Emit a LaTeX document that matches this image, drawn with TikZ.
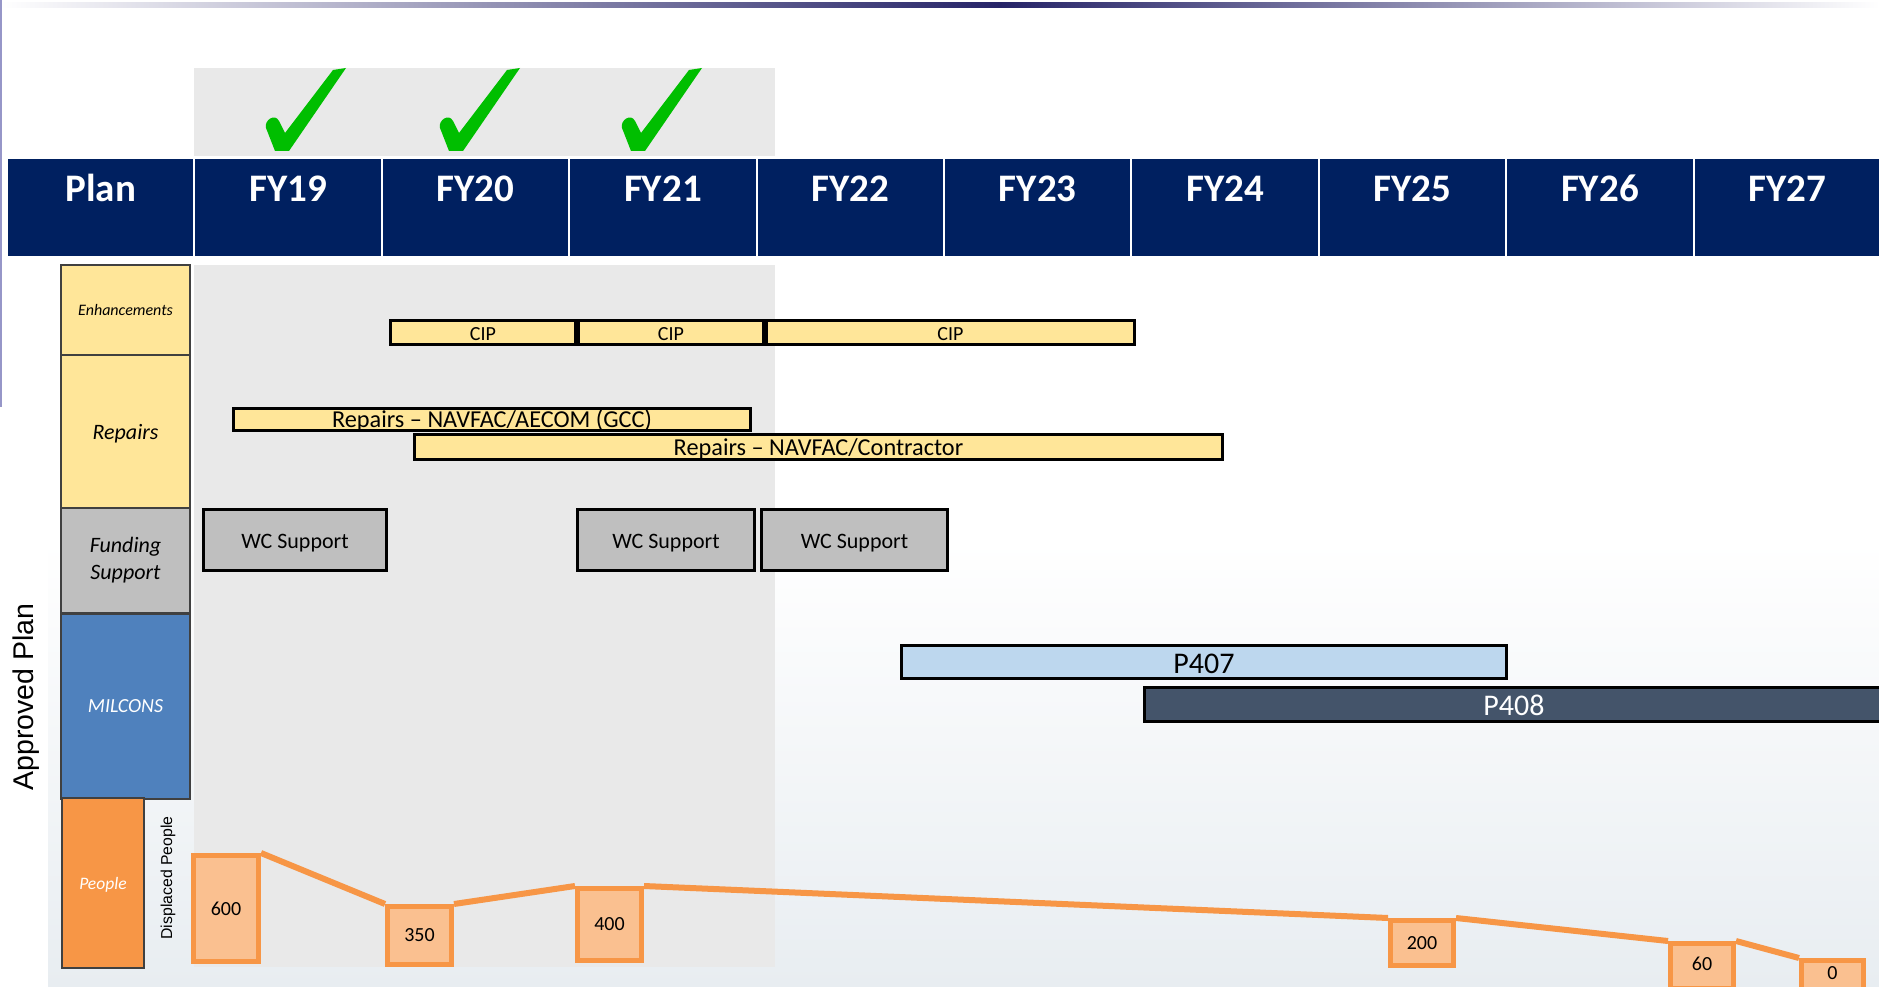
\documentclass[tikz,border=0pt]{standalone}
\usepackage{fontspec}
\setmainfont{Carlito}
\newfontfamily\arialfont{Liberation Sans}

\definecolor{navy}{RGB}{0,32,96}
\definecolor{topline}{RGB}{38,36,104}
\definecolor{pastgray}{RGB}{233,233,233}
\definecolor{enhyellow}{RGB}{255,230,153}
\definecolor{fundgray}{RGB}{191,191,191}
\definecolor{milblue}{RGB}{79,129,189}
\definecolor{pplorange}{RGB}{247,150,70}
\definecolor{ppllight}{RGB}{250,192,144}
\definecolor{pfirstblue}{RGB}{189,215,238}
\definecolor{pslate}{RGB}{68,84,106}
\definecolor{tickgreen}{RGB}{0,190,0}
\definecolor{sidepurple}{RGB}{150,150,200}
\definecolor{water}{RGB}{232,237,241}
\definecolor{rowedge}{RGB}{64,64,64}

\newcommand{\fsz}[1]{\fontsize{#1}{#1}\selectfont}

\begin{document}
\begin{tikzpicture}[x=1pt,y=-1pt,
    hdr/.style={fill=navy,text=white,inner sep=0pt,minimum width=185.4pt,minimum height=97pt,
                text height=25pt,text depth=36pt,font=\fsz{39}\bfseries},
    rowlab/.style={draw=rowedge,line width=1.2pt,inner sep=0pt,align=center,text depth=0pt},
    tbar/.style={draw=black,line width=3pt,inner sep=0pt,text=black,text height=16pt,text depth=0pt},
    pbox/.style={draw=pplorange,fill=ppllight,line width=5pt,inner sep=0pt,font=\fsz{20}},
    pline/.style={draw=pplorange,line width=6pt}]
    \useasboundingbox (0,0) rectangle (1879,987);
    \clip (0,0) rectangle (1879,987);

    % backdrop
    \shade[top color=white,bottom color=water] (48,540) rectangle (1879,987);
    \shade[left color=white,right color=topline] (0,3) rectangle (1000,8);
    \shade[left color=topline,right color=white] (1000,3) rectangle (1879,8);
    \fill[sidepurple] (0,0) rectangle (2,407);
    \fill[pastgray] (194,68) rectangle (775,156);
    \fill[pastgray] (194,265) rectangle (775,967);

    % ticks over the finished years
    \foreach \cx in {282,456,638}
        \fill[tickgreen,shift={(\cx,151)}] (-7,0) -- (-16,-23)
            .. controls (-18,-31) and (-7,-38) .. (-3,-30) -- (3,-18)
            -- (51,-81) -- (64,-83) -- (7,0) -- cycle;

    % header
    \foreach \yr [count=\i from 0] in {Plan,FY19,FY20,FY21,FY22,FY23,FY24,FY25,FY26,FY27}
        \node[hdr] (h\i) at ({100.7+187.4*\i},207.5) {\yr};

    % row labels
    \node[rowlab,fill=enhyellow,minimum width=129pt,minimum height=90pt,font=\fsz{16}\itshape] (enh) at (125.5,310) {Enhancements};
    \node[rowlab,fill=enhyellow,minimum width=129pt,minimum height=153pt,font=\fsz{22}\itshape] (rep) at (125.5,431.5) {Repairs};
    \node[rowlab,text depth={},fill=fundgray,minimum width=129pt,minimum height=105pt,font=\fontsize{22}{27}\selectfont\itshape] (fund) at (125.5,560.5) {Funding\\Support};
    \node[rowlab,fill=milblue,text=white,minimum width=129pt,minimum height=185pt,font=\fsz{20}\itshape] (mil) at (125.5,706.5) {MILCONS};
    \node[rowlab,fill=pplorange,text=white,minimum width=82pt,minimum height=170pt,font=\fsz{17.5}\itshape] (ppl) at (103,883) {People};
    \node[rotate=90,anchor=base,font=\arialfont\fsz{28.5}] (appr) at (33,697) {Approved Plan};
    \node[rotate=90,anchor=base,font=\arialfont\fsz{15.8}] (disp) at (172,878) {Displaced People};

    % enhancements
    \node[tbar,fill=enhyellow,minimum width=185pt,minimum height=24pt,font=\fsz{20}] (cip1) at (483,332.5) {CIP};
    \node[tbar,fill=enhyellow,minimum width=185pt,minimum height=24pt,font=\fsz{20}] (cip2) at (671,332.5) {CIP};
    \node[tbar,fill=enhyellow,minimum width=368pt,minimum height=24pt,font=\fsz{20}] (cip3) at (950.5,332.5) {CIP};

    % repairs
    \node[tbar,fill=enhyellow,minimum width=517pt,minimum height=22pt,font=\fsz{24.3}] (gcc) at (492,419.5) {Repairs -- NAVFAC/AECOM (GCC)};
    \node[tbar,fill=enhyellow,minimum width=808pt,minimum height=25pt,font=\fsz{24.3}] (ctr) at (818.5,447) {Repairs -- NAVFAC/Contractor};

    % funding support
    \node[tbar,fill=fundgray,minimum width=183pt,minimum height=61pt,font=\fsz{22}] (wc1) at (295,540) {WC Support};
    \node[tbar,fill=fundgray,minimum width=177pt,minimum height=61pt,font=\fsz{22}] (wc2) at (666,540) {WC Support};
    \node[tbar,fill=fundgray,minimum width=186pt,minimum height=61pt,font=\fsz{22}] (wc3) at (854.5,540) {WC Support};

    % milcons
    \node[tbar,text height=22.4pt,fill=pfirstblue,minimum width=605pt,minimum height=33pt,font=\fsz{30}] (pa) at (1204,662) {P407};
    \node[tbar,text height=22.4pt,fill=pslate,text=white,minimum width=739pt,minimum height=34pt,font=\fsz{30}] (pb) at (1514,704.5) {P408};

    % displaced people
    \node[pbox,minimum width=65pt,minimum height=106pt] (p600) at (226,908.5) {600};
    \node[pbox,minimum width=64pt,minimum height=58pt] (p350) at (419.5,935.5) {350};
    \node[pbox,minimum width=64pt,minimum height=72pt] (p400) at (609.5,924.5) {400};
    \node[pbox,minimum width=63pt,minimum height=45pt] (p200) at (1422,943) {200};
    \node[pbox,text depth=4pt,minimum width=63pt,minimum height=45pt] (p60) at (1702,966) {60};
    \node[pbox,text depth=4pt,minimum width=62pt,minimum height=29pt] (p0) at (1832.5,975) {0};
    \foreach \a/\b in {p600/p350,p350/p400,p400/p200,p200/p60,p60/p0}
        \draw[pline] (\a.north east) -- (\b.north west);
\end{tikzpicture}
\end{document}
